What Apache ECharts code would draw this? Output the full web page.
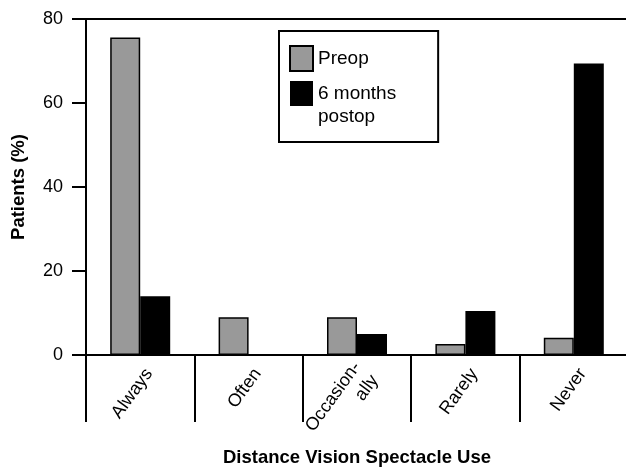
<!DOCTYPE html>
<html>
<head>
<meta charset="utf-8">
<script src="https://cdn.jsdelivr.net/npm/echarts@6/dist/echarts.min.js"></script>
<style>html,body{margin:0;padding:0;background:#fff}#c{width:626px;height:467px}</style>
</head>
<body>
<div id="c"></div>
<script>
const categories = ['Always', 'Often', 'Occasion-\nally', 'Rarely', 'Never'];
const preop = [75.6, 9.0, 9.0, 2.6, 4.1];
const postop = [14.0, 0, 5.0, 10.5, 69.4];
const seriesNames = ['Preop', '6 months\npostop'];
const yTicks = [0, 20, 40, 60, 80];

const FONT = 'Liberation Sans, Arial, Helvetica, sans-serif';
const chart = echarts.init(document.getElementById('c'), null, {renderer: 'canvas'});
chart.setOption({
  animation: false,
  backgroundColor: '#fff',
  textStyle: {fontFamily: FONT, color: '#000'},
  grid: {left: 86, top: 19, width: 542, height: 336, show: true, borderColor: '#000', borderWidth: 2,
         containLabel: false, outerBoundsMode: 'none'},
  legend: {
    orient: 'vertical', left: 279, top: 31,
    padding: [14, 42, 14, 10],
    borderColor: '#000', borderWidth: 2,
    itemWidth: 23, itemHeight: 25, itemGap: -13, itemTextGap: 10,
    icon: 'rect',
    textStyle: {fontFamily: FONT, fontSize: 19, color: '#000', lineHeight: 23},
    formatter: function (name) { return name === seriesNames[1] ? '\n' + name : name; },
    data: seriesNames
  },
  xAxis: {
    type: 'category', data: categories,
    axisLine: {lineStyle: {color: '#000', width: 2}},
    axisTick: {show: true, length: 67, lineStyle: {color: '#000', width: 2}, alignWithLabel: false},
    axisLabel: {
      interval: 0, rotate: 54, align: 'right', verticalAlign: 'middle', margin: 9,
      hideOverlap: false,
      formatter: function (v) { return '\n' + v; },
      fontFamily: FONT, fontSize: 18, color: '#000', lineHeight: 22
    },
    name: 'Distance Vision Spectacle Use', nameLocation: 'middle', nameGap: 93,
    nameMoveOverlap: false,
    nameTextStyle: {fontFamily: FONT, fontSize: 18.5, fontWeight: 'bold', color: '#000'}
  },
  yAxis: {
    type: 'value', min: yTicks[0], max: yTicks[yTicks.length - 1], interval: 20,
    splitLine: {show: false},
    axisLine: {show: true, lineStyle: {color: '#000', width: 2}},
    axisTick: {show: true, length: 14, lineStyle: {color: '#000', width: 2}},
    axisLabel: {margin: 23, fontFamily: FONT, fontSize: 18, color: '#000'},
    name: 'Patients (%)', nameLocation: 'middle', nameRotate: 90, nameGap: 58,
    nameMoveOverlap: false,
    nameTextStyle: {fontFamily: FONT, fontSize: 18.5, fontWeight: 'bold', color: '#000'}
  },
  series: [
    {name: seriesNames[0], type: 'bar', data: preop, barWidth: 30, barGap: '0%',
     itemStyle: {color: '#999999', borderColor: '#000', borderWidth: 1.5}},
    {name: seriesNames[1], type: 'bar', data: postop, barWidth: 30, barGap: '0%',
     itemStyle: {color: '#000', borderColor: '#000', borderWidth: 0}}
  ]
});
</script>
</body>
</html>
